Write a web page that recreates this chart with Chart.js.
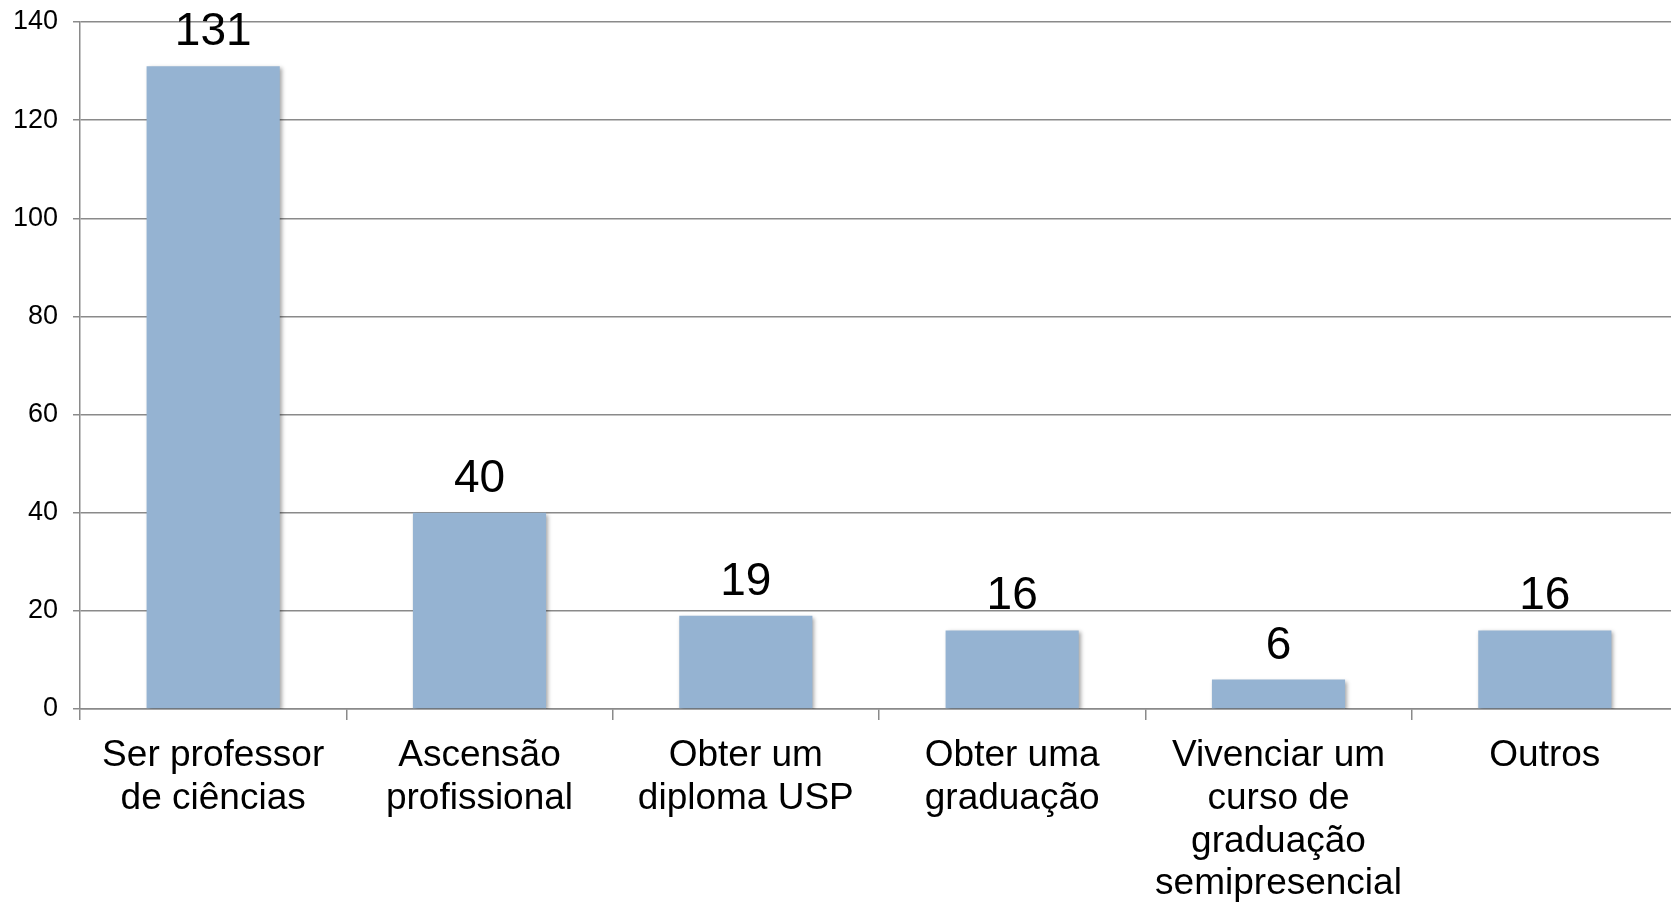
<!DOCTYPE html>
<html>
<head>
<meta charset="utf-8">
<script src="https://cdn.jsdelivr.net/npm/chart.js@4/dist/chart.umd.min.js"></script>
<style>
  html, body { margin: 0; padding: 0; background: #fff; overflow: hidden; }
  #wrap { width: 1678px; height: 902px; }
</style>
</head>
<body>
<div id="wrap"><canvas id="chart" width="1678" height="902"></canvas></div>
<script>
// Data
const categories = [
    ["Ser professor", "de ciências"],
    ["Ascensão", "profissional"],
    ["Obter um", "diploma USP"],
    ["Obter uma", "graduação"],
    ["Vivenciar um", "curso de", "graduação", "semipresencial"],
    ["Outros"]
];
const counts = [131, 40, 19, 16, 6, 16];
const yTicks = [0, 20, 40, 60, 80, 100, 120, 140];

const FONT = "'Liberation Sans', Arial, sans-serif";
const GRID = "#8a8a8a";

// Value labels above bars
const valueLabels = {
    id: "valueLabels",
    afterDatasetsDraw(chart) {
        const ctx = chart.ctx;
        const meta = chart.getDatasetMeta(0);
        ctx.save();
        ctx.font = "46px " + FONT;
        ctx.fillStyle = "#000";
        ctx.textAlign = "center";
        ctx.textBaseline = "alphabetic";
        meta.data.forEach((bar, i) => {
            ctx.fillText(String(counts[i]), bar.x, bar.y - 21);
        });
        ctx.restore();
    }
};

// Soft shadow under the bars
const barShadow = {
    id: "barShadow",
    beforeDatasetDraw(chart) {
        const ctx = chart.ctx;
        ctx.save();
        ctx.shadowColor = "rgba(0,0,0,0.35)";
        ctx.shadowBlur = 4;
        ctx.shadowOffsetX = 2;
        ctx.shadowOffsetY = 2;
    },
    afterDatasetDraw(chart) {
        chart.ctx.restore();
    }
};

new Chart(document.getElementById("chart"), {
    type: "bar",
    data: {
        labels: categories,
        datasets: [{
            data: counts,
            backgroundColor: "#95b3d2",
            borderWidth: 0,
            categoryPercentage: 1.0,
            barPercentage: 0.5
        }]
    },
    options: {
        responsive: false,
        animation: false,
        layout: { padding: { top: 22, right: 0, bottom: 0, left: 0 } },
        plugins: {
            legend: { display: false },
            tooltip: { enabled: false }
        },
        scales: {
            x: {
                grid: {
                    display: true,
                    drawOnChartArea: false,
                    drawTicks: true,
                    tickLength: 11,
                    color: GRID,
                    lineWidth: 1.5
                },
                border: { display: true, color: GRID, width: 1.5 },
                ticks: {
                    color: "#000",
                    font: { family: FONT, size: 37, lineHeight: 1.16 },
                    padding: 14,
                    maxRotation: 0,
                    autoSkip: false
                },
                afterFit(scale) {
                    scale.height = 193;
                    scale.paddingLeft = 0;
                    scale.paddingRight = 0;
                }
            },
            y: {
                min: 0,
                max: 140,
                afterBuildTicks(scale) {
                    scale.ticks = yTicks.map(v => ({ value: v }));
                },
                grid: {
                    color: GRID,
                    lineWidth: 1.5,
                    tickLength: 7
                },
                border: { display: true, color: GRID, width: 1.5 },
                ticks: {
                    color: "#000",
                    font: { family: FONT, size: 27 },
                    padding: 15
                },
                afterFit(scale) {
                    scale.width = 80;
                    scale.paddingTop = 0;
                    scale.paddingBottom = 0;
                }
            }
        }
    },
    plugins: [barShadow, valueLabels]
});
</script>
</body>
</html>
